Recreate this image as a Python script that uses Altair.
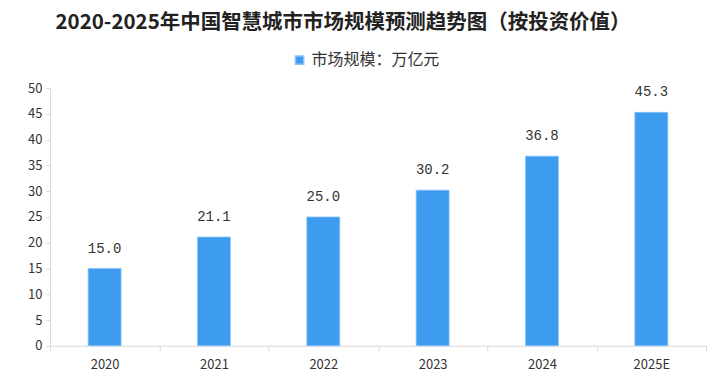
import altair as alt
import pandas as pd

years = ["2020", "2021", "2022", "2023", "2024", "2025E"]
values = [15.0, 21.1, 25.0, 30.2, 36.8, 45.3]
series_name = "市场规模：万亿元"
title_text = "2020-2025年中国智慧城市市场规模预测趋势图（按投资价值）"
y_ticks = [0, 5, 10, 15, 20, 25, 30, 35, 40, 45, 50]

df = pd.DataFrame({"year": years, "value": values, "series": [series_name] * len(years)})
df["label"] = df["value"].map(lambda v: f"{v:.1f}")

font = "Noto Sans CJK SC"
bar_color = "#3d9bf0"

x_enc = alt.X("year:N", sort=years, title=None,
              scale=alt.Scale(paddingInner=0, paddingOuter=0),
              axis=alt.Axis(labelAngle=0, labelFont=font, labelFontSize=13, labelColor="#333333",
                            domainColor="#d9d9d9", tickColor="#d9d9d9", tickBand="extent",
                            tickSize=5, labelPadding=8))
y_enc = alt.Y("value:Q", title=None,
              scale=alt.Scale(domain=[0, 50], nice=False),
              axis=alt.Axis(values=y_ticks, grid=False, labelFont=font, labelFontSize=13,
                            labelColor="#333333", domainColor="#d9d9d9", tickColor="#d9d9d9",
                            labelOverlap=False, tickSize=4, labelPadding=4))

base = alt.Chart(df).encode(x=x_enc, y=y_enc)

bars = base.mark_bar(size=33, color=bar_color, stroke="#8cc4f7", strokeWidth=0.8).encode(
    fill=alt.Fill("series:N", scale=alt.Scale(range=[bar_color]),
                  legend=alt.Legend(title=None, orient="none", legendX=242, legendY=-36,
                                    symbolType="square", symbolSize=70, labelFont=font,
                                    labelFontSize=16, labelColor="#333333")),
)

labels = base.mark_text(dy=-20, font="Liberation Mono", fontSize=14, color="#333333").encode(
    text="label:N",
)

chart = (bars + labels).properties(
    width=657, height=258,
    title=alt.TitleParams(title_text, font=font, fontSize=20.5, fontWeight="bold", color="#222222",
                          anchor="middle", frame="group", dx=-35, offset=19),
    padding={"left": 42, "top": 80, "right": 2, "bottom": 27},
    autosize=alt.AutoSizeParams(type="none"),
).configure_view(stroke=None)

chart.save("out.html", embed_options={"renderer": "svg", "actions": False})
